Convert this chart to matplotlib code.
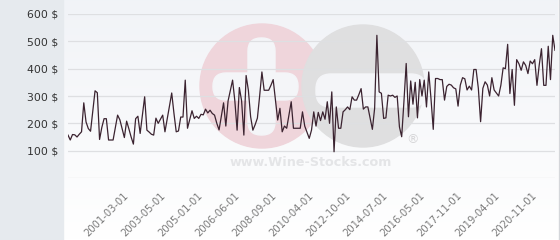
import matplotlib.pyplot as plt
import numpy as np
from matplotlib.patches import Circle, FancyBboxPatch, Rectangle
from matplotlib.ticker import FuncFormatter

prices_early = [157, 139, 159, 158, 150, 160, 169, 275, 205, 181, 171, 245, 319, 312,
                141, 185, 217, 217, 139, 139, 139, 185, 230, 213, 180, 148, 208, 180,
                150, 124, 217, 226, 163, 230, 297, 175, 168, 160, 157, 219, 200, 215,
                230]
prices_mid1 = [169, 215, 263, 311, 236, 169, 172, 223, 223, 358, 182, 214, 246, 218,
               226, 218, 233, 231, 252, 238, 248, 236, 230, 200]
prices_mid2 = [176, 225, 275, 190, 282, 320, 358, 282, 175, 331, 282, 157, 375, 321,
               224, 175, 195, 219, 300, 388, 321, 321, 321, 339, 360, 286, 212, 255,
               169, 190, 182, 230, 279, 182, 182, 182, 182, 242, 190, 168, 145, 175,
               242, 190, 240, 210, 242, 215, 279, 200, 315, 96, 260, 182, 182, 242,
               250, 260, 250, 297, 285, 285, 305, 327, 252, 260, 260, 219, 178, 255,
               522]
prices_mid3 = [315, 310, 218, 220, 303, 300, 303, 295, 300, 187, 151, 280, 419, 224,
               355, 270, 350, 220, 360, 300, 358, 260, 388, 290, 178, 364, 364, 360,
               360, 285, 335]
prices_late = [343, 340, 330, 326, 263, 340, 367, 363, 322, 336, 322, 397, 397, 328,
               206, 328, 352, 340, 300, 367, 322, 311, 300, 340, 403, 400, 489, 309,
               397, 266, 433, 418, 394, 425, 412, 382, 428, 418, 433, 339, 413, 473,
               339, 339, 482, 360, 522, 467]

date_labels = ['2001-03-01', '2003-05-01', '2005-01-01', '2006-06-01', '2008-09-01',
               '2010-04-01', '2012-10-01', '2014-07-01', '2016-05-01', '2017-11-01',
               '2019-04-01', '2020-11-01']
y_ticks = [0, 100, 200, 300, 400, 500, 600]

prices = prices_early + prices_mid1 + prices_mid2 + prices_mid3 + prices_late
idx = np.arange(len(prices))

fig = plt.figure(figsize=(5.6, 2.4), dpi=100)
fig.patch.set_facecolor('white')

# ------------------------------------------------
# background + watermark (pixel coords)
# ------------------------------------------------
bg = fig.add_axes([0, 0, 1, 1])
bg.set_xlim(0, 560)
bg.set_ylim(240, 0)
bg.set_axis_off()

grad = np.linspace(0, 1, 200).reshape(-1, 1)
top_c = np.array([0.945, 0.953, 0.969])
bot_c = np.array([1.0, 1.0, 1.0])
grad_img = top_c + (bot_c - top_c) * grad[..., None]
bg.imshow(grad_img, extent=[63, 558, 240, 0], aspect='auto', zorder=0)
bg.add_patch(Rectangle((0, 0), 63, 240, color='#e6eaee', zorder=1))
bg.plot([558.5, 558.5], [0, 240], color='#d4d6da', lw=1, zorder=1)

bg.add_patch(Circle((262, 86), 62, color='#efd5db', zorder=2))
bg.add_patch(Circle((363, 86), 61, color='#dfdfe0', zorder=3))
wm = '#f4f5f8'
bg.add_patch(FancyBboxPatch((248, 38), 27, 97, boxstyle='round,pad=0,rounding_size=13',
                            color=wm, zorder=4))
bg.add_patch(FancyBboxPatch((213, 73), 85, 27, boxstyle='round,pad=0,rounding_size=13',
                            color=wm, zorder=4))
bg.add_patch(FancyBboxPatch((316, 74), 110, 33, boxstyle='round,pad=0,rounding_size=15',
                            color=wm, zorder=4))
bg.text(311, 162, 'www.Wine-Stocks.com', ha='center', va='center', fontsize=9.2,
        fontweight='bold', color='#e4e5e7', zorder=5)
bg.text(413, 140, '®', ha='center', va='center', fontsize=9, color='#d6d6d8', zorder=5)

# ------------------------------------------------
# price line
# ------------------------------------------------
ax = fig.add_axes([68 / 560, 1 - 178 / 240, 487 / 560, 164 / 240])
ax.set_facecolor('none')
ax.plot(idx, prices, color='#3b2330', lw=0.9, zorder=3)

ax.set_xlim(0, len(prices) - 1)
ax.set_ylim(0, 600)
ax.set_yticks(y_ticks)
ax.yaxis.set_major_formatter(FuncFormatter(lambda v, p: '' if v == 0 else f'{int(v)} $'))
ax.grid(True, axis='y', color='#dedfe2', lw=0.9)
ax.set_axisbelow(True)

tick_pos = np.linspace(0.113, 0.951, len(date_labels)) * (len(prices) - 1)
ax.set_xticks(tick_pos)
ax.set_xticklabels(date_labels, rotation=45, ha='right', rotation_mode='anchor',
                   fontsize=7.2, color='#7a7a7a')
ax.tick_params(axis='x', length=0, pad=9)
ax.tick_params(axis='y', length=0, pad=7, labelsize=7.8, labelcolor='#333333')

for s in ax.spines.values():
    s.set_visible(False)

fig.savefig('out.png', dpi=100)
